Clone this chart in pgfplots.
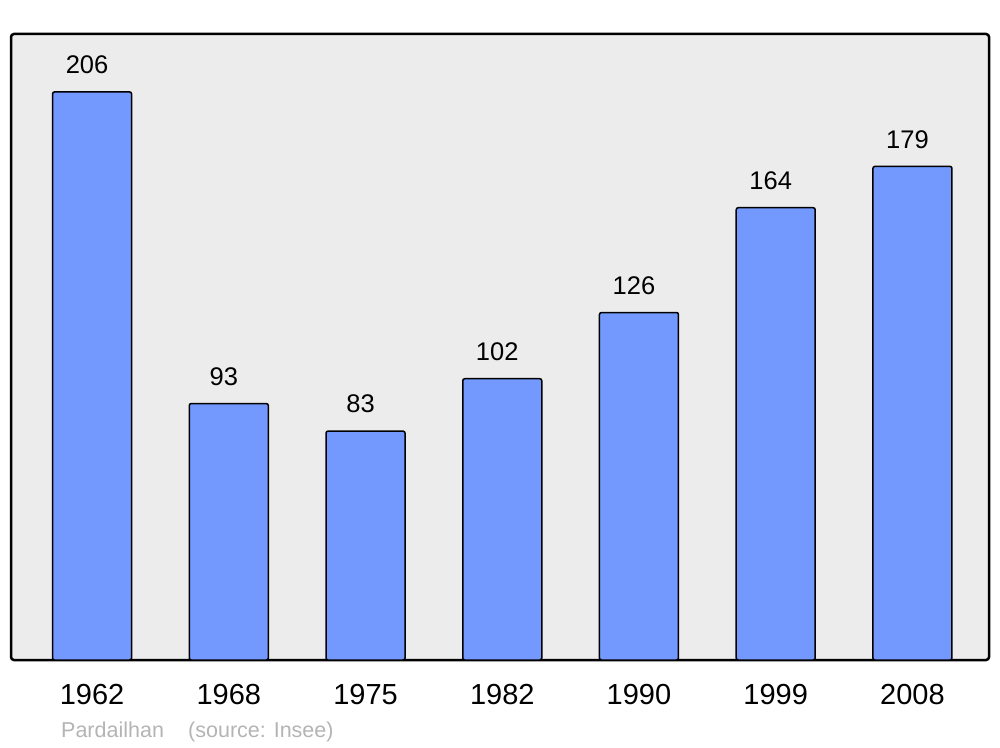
\documentclass[border=0pt]{standalone}
\usepackage{pgfplots}
\pgfplotsset{compat=1.18}
\usepackage{fontspec}
\setmainfont{Liberation Sans}
\definecolor{barblue}{RGB}{115,153,255}
\definecolor{bggray}{RGB}{236,236,236}
\definecolor{srcgray}{RGB}{180,180,180}
\begin{document}
\begin{tikzpicture}[x=1pt,y=1pt]
  \path (0,0) rectangle (1000,747);
  \begin{axis}[
      at={(11pt,87pt)}, anchor=south west,
      width=978pt, height=626pt, scale only axis,
      xmin=-0.593, xmax=6.56,
      ymin=0, ymax=227,
      axis background/.style={fill=bggray},
      axis line style={line width=2.5pt, rounded corners=3pt},
      xtick=data,
      xticklabels={1962,1968,1975,1982,1990,1999,2008},
      ytick=\empty,
      major tick length=0pt,
      xticklabel style={font=\fontsize{29}{32}\selectfont, yshift=-21pt},
      /pgf/number format/assume math mode=true,
      nodes near coords,
      every node near coord/.append style={font=\fontsize{25.5}{28}\selectfont, yshift=14pt, xshift=-5pt, black},
      clip=false,
    ]
    \addplot[ybar, bar width=79pt, fill=barblue, draw=black, line width=1.5pt, rounded corners=2pt]
      coordinates {(0,206) (1,93) (2,83) (3,102) (4,126) (5,164) (6,179)};
  \end{axis}
  \node[anchor=base west, text=srcgray, font=\fontsize{21.5}{24}\selectfont, inner sep=0pt] at (61,10) {Pardailhan};
  \node[anchor=base west, text=srcgray, font=\fontsize{21.5}{24}\selectfont, inner sep=0pt] at (188,10) {(source: Insee)};
\end{tikzpicture}
\end{document}
